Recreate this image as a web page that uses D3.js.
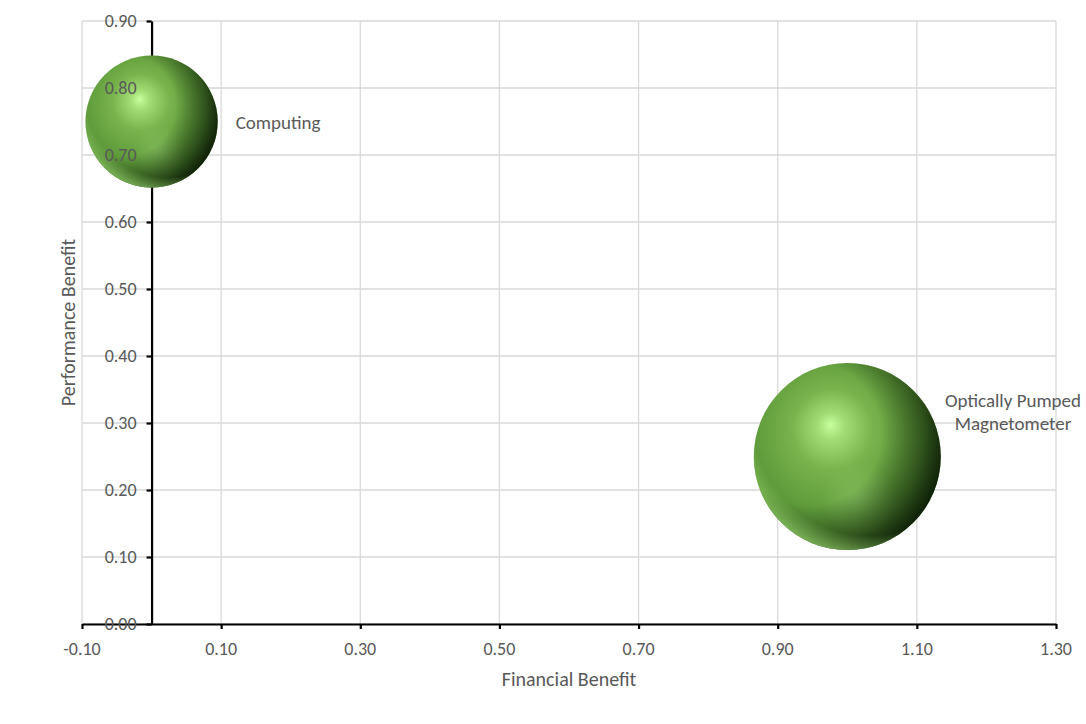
<!DOCTYPE html>
<html>
<head>
<meta charset="utf-8">
<script src="https://cdn.jsdelivr.net/npm/d3@7"></script>
<style>
  body { margin: 0; background: #fff; }
  text { font-family: Calibri, Carlito, Lato, "Open Sans", sans-serif; fill: #595959; }
</style>
</head>
<body>
<div id="chart"></div>
<script>
// Bubble chart data
const names = ['Computing', 'Optically Pumped Magnetometer'];
const financial = [0.0, 1.0];
const performance = [0.75, 0.25];
const bubbleSize = [1, 2];

const xTicks = [-0.1, 0.1, 0.3, 0.5, 0.7, 0.9, 1.1, 1.3];
const yTicks = [0, 0.1, 0.2, 0.3, 0.4, 0.5, 0.6, 0.7, 0.8, 0.9];

const width = 1086, height = 724;
const x = d3.scaleLinear().domain([-0.1, 1.3]).range([82, 1056]);
const y = d3.scaleLinear().domain([0, 0.9]).range([624, 21]);
const r = d3.scaleSqrt().domain([0, 2]).range([0, 93.5]);

const svg = d3.select('#chart').append('svg')
    .attr('width', width)
    .attr('height', height);

// sphere shading gradients
const defs = svg.append('defs');
const base = defs.append('radialGradient').attr('id', 'sphereBase')
    .attr('cx', 0.44).attr('cy', 0.4).attr('r', 0.62)
    .attr('fx', 0.41).attr('fy', 0.33);
[[0, '#c6ff9c'], [0.12, '#a2dc74'], [0.35, '#78b34c'], [0.7, '#5e9a3a'], [1, '#4a7e2c']]
    .forEach(s => base.append('stop').attr('offset', s[0]).attr('stop-color', s[1]));

const shade = defs.append('radialGradient').attr('id', 'sphereShade')
    .attr('cx', 0.3).attr('cy', 0.38).attr('r', 0.76);
[[0, 0], [0.5, 0], [0.8, 0.5], [1, 0.95]]
    .forEach(s => shade.append('stop').attr('offset', s[0])
        .attr('stop-color', '#061202').attr('stop-opacity', s[1]));

const rim = defs.append('radialGradient').attr('id', 'sphereRim')
    .attr('cx', 0.62).attr('cy', 0.3).attr('r', 0.76);
[[0, 0], [0.82, 0], [0.93, 0.55], [1, 0.85]]
    .forEach(s => rim.append('stop').attr('offset', s[0])
        .attr('stop-color', '#94d26c').attr('stop-opacity', s[1]));

const glow = defs.append('radialGradient').attr('id', 'sphereGlow')
    .attr('cx', 0.56).attr('cy', 0.73).attr('r', 0.2);
[[0, 0.3], [1, 0]]
    .forEach(s => glow.append('stop').attr('offset', s[0])
        .attr('stop-color', '#b0e48c').attr('stop-opacity', s[1]));

// gridlines
svg.append('g').selectAll('line.vg')
    .data(xTicks)
    .enter().append('line')
    .attr('x1', d => x(d)).attr('x2', d => x(d))
    .attr('y1', y(0)).attr('y2', y(0.9))
    .attr('stroke', '#d9d9d9').attr('stroke-width', 1.3);

svg.append('g').selectAll('line.hg')
    .data(yTicks)
    .enter().append('line')
    .attr('x1', x(-0.1)).attr('x2', x(1.3))
    .attr('y1', d => y(d)).attr('y2', d => y(d))
    .attr('stroke', '#d9d9d9').attr('stroke-width', 1.3);

// axis lines (crossing at zero)
const xAxis = d3.axisBottom(x).tickValues(xTicks).tickFormat('').tickSize(5).tickSizeOuter(0);
svg.append('g').attr('transform', `translate(0,${y(0)})`).call(xAxis)
    .call(g => g.selectAll('path, line').attr('stroke', '#000').attr('stroke-width', 2.2));

const yAxis = d3.axisLeft(y).tickValues(yTicks).tickFormat('').tickSize(5).tickSizeOuter(0);
svg.append('g').attr('transform', `translate(${x(0)},0)`).call(yAxis)
    .call(g => g.selectAll('path, line').attr('stroke', '#000').attr('stroke-width', 2.2));

// bubbles
const data = names.map((n, i) => ({
    name: n, fx: financial[i], py: performance[i], size: bubbleSize[i]
}));

const bubble = svg.append('g').selectAll('g.bubble')
    .data(data)
    .enter().append('g')
    .attr('class', 'bubble');

['sphereBase', 'sphereGlow', 'sphereShade', 'sphereRim'].forEach(id => {
    bubble.append('circle')
        .attr('cx', d => x(d.fx))
        .attr('cy', d => y(d.py))
        .attr('r', d => r(d.size))
        .attr('fill', `url(#${id})`);
});

// tick labels
svg.append('g').selectAll('text.xt')
    .data(xTicks)
    .enter().append('text')
    .attr('x', d => x(d))
    .attr('y', y(0) + 31)
    .attr('text-anchor', 'middle')
    .style('font-size', '18px')
    .text(d => d3.format('.2f')(d).replace('−', '-'));

svg.append('g').selectAll('text.yt')
    .data(yTicks)
    .enter().append('text')
    .attr('x', x(0) - 15)
    .attr('y', d => y(d) + 6)
    .attr('text-anchor', 'end')
    .style('font-size', '18px')
    .text(d => d3.format('.2f')(d));

// data labels
svg.append('text')
    .attr('x', x(financial[0]) + r(bubbleSize[0]) + 18)
    .attr('y', y(performance[0]) + 7)
    .style('font-size', '19px')
    .text(names[0]);

const opm = svg.append('text')
    .attr('text-anchor', 'middle')
    .style('font-size', '19px');
opm.append('tspan').attr('x', 1013).attr('y', y(performance[1]) - 50).text('Optically Pumped');
opm.append('tspan').attr('x', 1013).attr('y', y(performance[1]) - 27).text('Magnetometer');

// axis titles
svg.append('text')
    .attr('x', (x(-0.1) + x(1.3)) / 2)
    .attr('y', 686)
    .attr('text-anchor', 'middle')
    .style('font-size', '20px')
    .text('Financial Benefit');

svg.append('text')
    .attr('transform', `translate(75,${(y(0) + y(0.9)) / 2}) rotate(-90)`)
    .attr('text-anchor', 'middle')
    .style('font-size', '20px')
    .text('Performance Benefit');
</script>
</body>
</html>
